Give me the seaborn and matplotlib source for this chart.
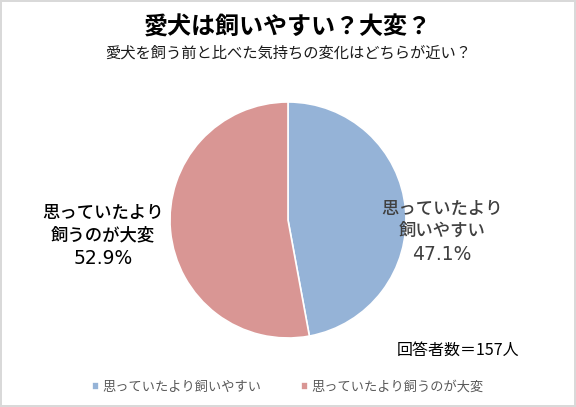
import matplotlib
matplotlib.use("Agg")
import matplotlib.pyplot as plt
import seaborn as sns

# data
categories = ["思っていたより飼いやすい", "思っていたより飼うのが大変"]
label_texts = ["思っていたより\n飼いやすい", "思っていたより\n飼うのが大変"]
shares = [47.1, 52.9]
colors = ["#95B3D7", "#D99694"]
title = "愛犬は飼いやすい？大変？"
subtitle = "愛犬を飼う前と比べた気持ちの変化はどちらが近い？"
note = "回答者数＝157人"

sns.set_theme(style="white")
plt.rcParams["font.family"] = ["Noto Sans CJK JP", "DejaVu Sans"]

fig = plt.figure(figsize=(5.76, 4.07), dpi=100)
fig.patch.set_edgecolor("#d9d9d9")
fig.patch.set_linewidth(1.5)

# pie axes: centre about (288, 220) px, radius about 118 px
ax = fig.add_axes([0.5 - 118 / 576, 1 - 338 / 407, 236 / 576, 236 / 407])
wedges, _ = ax.pie(
    shares,
    colors=colors,
    startangle=90,
    counterclock=False,
    radius=1.0,
    wedgeprops={"edgecolor": "white", "linewidth": 1.2},
)
ax.set_aspect("equal")
ax.set_xlim(-1, 1)
ax.set_ylim(-1, 1)

# slice labels outside the pie
label_pos = [(442, 220, "#404040"), (103, 224, "#000000")]
for text, share, (px, py, col) in zip(label_texts, shares, label_pos):
    fig.text(px / 576, 1 - py / 407, text, ha="center", va="center",
             fontsize=12.5, fontweight="medium", color=col, linespacing=1.3)
    fig.text(px / 576, 1 - (py + 34) / 407, f"{share}%", ha="center", va="center",
             fontsize=13.5, family="DejaVu Sans", color=col)

fig.text(0.5, 1 - 28 / 407, title, ha="center", va="center",
         fontsize=17.3, fontweight="bold", color="#000000")
fig.text(0.5, 1 - 53 / 407, subtitle, ha="center", va="center",
         fontsize=11, color="#1a1a1a")
fig.text(458 / 576, 1 - 350 / 407, note, ha="center", va="center",
         fontsize=11.5, color="#000000")

fig.legend(wedges, categories, loc="center", bbox_to_anchor=(0.5, 1 - 387 / 407),
           ncol=2, frameon=False, fontsize=9.5, handlelength=0.5, handleheight=0.5,
           handletextpad=0.3, columnspacing=3.0, labelcolor="#595959")

fig.savefig("out.png", dpi=100)
